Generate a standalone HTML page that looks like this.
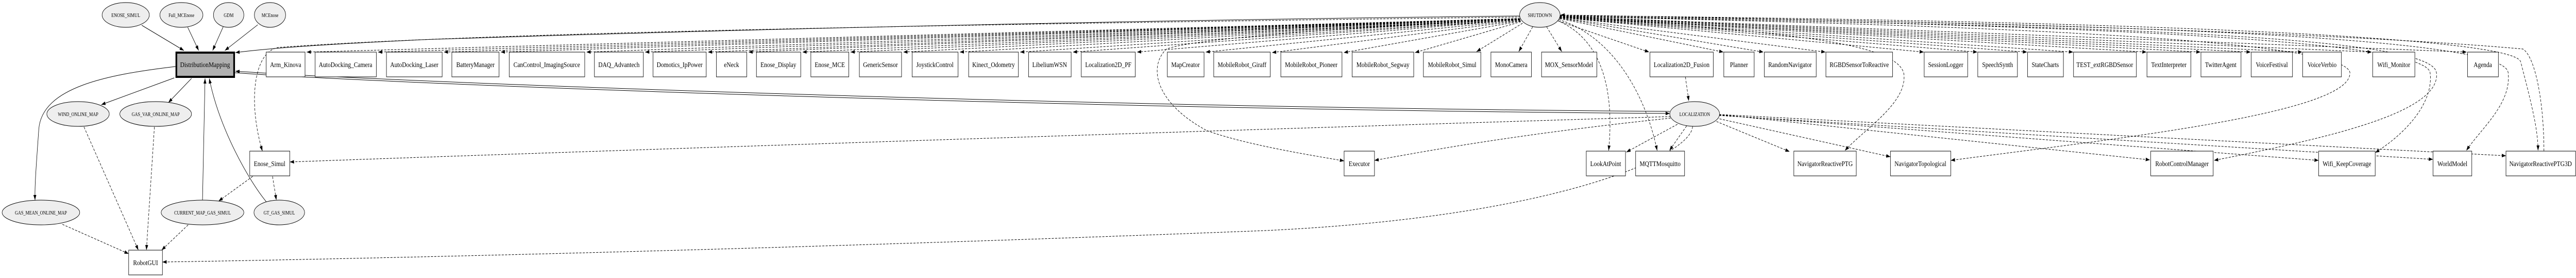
<!DOCTYPE html>
<html><head><meta charset="utf-8"><style>
html,body{margin:0;padding:0;background:#fff;width:100%;height:100%;overflow:hidden;}
svg{display:block;position:absolute;left:0;top:0;width:100vw;height:100vh;}
text{font-family:"Liberation Serif",serif;}
.b{fill:#fff;stroke:#000;stroke-width:1;}
.e{fill:#eeeeee;stroke:#000;stroke-width:1;}
.s{fill:none;stroke:#000;stroke-width:1;marker-end:url(#a);}
.d{fill:none;stroke:#000;stroke-width:1;stroke-dasharray:5,3;marker-end:url(#a);}
.t{font-size:14px;text-anchor:middle;}
.te{font-size:10px;text-anchor:middle;}
</style></head><body>
<svg viewBox="0 0 6106 539" preserveAspectRatio="none" xmlns="http://www.w3.org/2000/svg">
<defs><marker id="a" markerUnits="userSpaceOnUse" markerWidth="11" markerHeight="8" refX="10" refY="3.5" orient="auto"><path d="M0,0 L10,3.5 L0,7 z" fill="#000"/></marker></defs>

<path class="s" d="M336,49 L436,98"/>
<path class="s" d="M445,53 L471,98"/>
<path class="s" d="M529,52 L504,98"/>
<path class="s" d="M611,48 L533,98"/>
<path class="s" d="M413,151 L240,203"/>
<path class="s" d="M454,152 L399,199"/>
<path class="s" d="M416,129 C250,145 100,170 92,250 C86,320 82,360 83,388"/>
<path class="s" d="M480,388 L486,152"/>
<path class="s" d="M631,391 C590,350 520,250 496,152"/>
<path class="d" d="M199,246 L328,485"/>
<path class="d" d="M366,246 L347,485"/>
<path class="d" d="M148,435 L305,492"/>
<path class="d" d="M446,436 L383,485"/>
<path class="d" d="M599,342 L518,390"/>
<path class="d" d="M646,342 L655,388"/>

<path class="s" d="M3602,31 C3000,36 2000,50 1000,77 C800,85 650,92 558,102"/>
<path class="s" d="M557,141 C900,162 2500,212 3958,220"/>
<path class="s" d="M3958,216 C2500,208 900,158 558,138"/>
<path class="d" d="M3604,33 C2500,45 1200,60 660,92 C600,100 588,200 622,293"/>
<path class="d" d="M3960,226 C3000,250 1500,290 687,314"/>
<path class="d" d="M4012,245 C4010,300 3700,420 3000,447 C2000,479 1000,500 385,508"/>
<path class="d" d="M3603,37 C3300,50 2850,70 2765,95 C2720,130 2740,200 2860,253 C2950,280 3100,300 3186,312"/>
<path class="d" d="M3960,229 C3600,260 3400,290 3258,311"/>

<path class="d" d="M3603,36 L727,101"/>
<path class="d" d="M3603,36 L896,101"/>
<path class="d" d="M3603,36 L1052,101"/>
<path class="d" d="M3603,36 L1187,101"/>
<path class="d" d="M3603,36 L1390,101"/>
<path class="d" d="M3603,36 L1529,101"/>
<path class="d" d="M3603,36 L1678,101"/>
<path class="d" d="M3603,36 L1774,101"/>
<path class="d" d="M3603,37 L1902,101"/>
<path class="d" d="M3603,37 L2016,101"/>
<path class="d" d="M3603,37 L2141,101"/>
<path class="d" d="M3603,37 L2275,101"/>
<path class="d" d="M3603,38 L2418,101"/>
<path class="d" d="M3603,38 L2543,101"/>
<path class="d" d="M3603,38 L2695,101"/>
<path class="d" d="M3604,39 L2858,101"/>
<path class="d" d="M3604,40 L3015,102"/>
<path class="d" d="M3604,41 L3185,102"/>
<path class="d" d="M3605,42 L3354,102"/>
<path class="d" d="M3609,45 L3500,100"/>
<path class="d" d="M3633,52 L3600,100"/>
<path class="d" d="M3666,52 L3702,100"/>

<path class="d" d="M3695,41 L3909,101"/>
<path class="d" d="M3697,36 L4085,101"/>
<path class="d" d="M3697,35 L4180,101"/>
<path class="d" d="M3697,35 L4327,101"/>
<path class="d" d="M3697,34 L4560,101"/>
<path class="d" d="M3697,34 L4687,101"/>
<path class="d" d="M3697,34 L4805,101"/>
<path class="d" d="M3697,33 L4914,101"/>
<path class="d" d="M3697,33 L5088,101"/>
<path class="d" d="M3697,33 L5216,101"/>
<path class="d" d="M3697,33 L5335,101"/>
<path class="d" d="M3697,32 L5457,101"/>
<path class="d" d="M3697,32 L5622,101"/>
<path class="d" d="M3697,32 L5847,101"/>
<path class="d" d="M3692,40 C3780,70 3830,150 3813,292"/>
<path class="d" d="M3695,38 C3820,70 3900,180 3928,292"/>
<path class="d" d="M3995,149 L4003,196"/>
<path class="d" d="M3697,33 C4200,60 4500,80 4513,144 C4520,200 4420,250 4373,292"/>
<path class="d" d="M3697,32 C4800,50 5550,80 5570,140 C5580,220 5000,270 4624,311"/>
<path class="d" d="M3697,32 C5000,50 5760,70 5775,140 C5790,220 5500,270 5248,311"/>
<path class="d" d="M3697,32 C5000,48 5740,80 5760,140 C5770,200 5700,260 5630,296"/>
<path class="d" d="M3697,31 C5000,45 5930,70 5945,140 C5955,200 5880,250 5846,292"/>
<path class="d" d="M3697,30 C5000,40 5960,70 5975,120 C6000,200 6016,250 6016,292"/>
<path class="d" d="M6030,293 C6030,200 6010,110 5980,95 C5500,60 4500,40 3699,29"/>

<path class="d" d="M3976,241 L3855,295"/>
<path class="d" d="M3998,244 L3957,292"/>
<path class="d" d="M4061,233 L4242,294"/>
<path class="d" d="M4068,229 L4481,304"/>
<path class="d" d="M4075,222 L5096,310"/>
<path class="d" d="M4075,223 L5496,311"/>
<path class="d" d="M4075,224 L5767,309"/>
<path class="d" d="M4075,222 L5940,302"/>

<ellipse class="e" cx="298" cy="29" rx="56" ry="24"/><text class="te" x="298" y="33">ENOSE_SIMUL</text>
<ellipse class="e" cx="430" cy="29" rx="51" ry="24"/><text class="te" x="430" y="33">Full_MCEnose</text>
<ellipse class="e" cx="542" cy="29" rx="36" ry="24"/><text class="te" x="542" y="33">GDM</text>
<ellipse class="e" cx="640" cy="29" rx="37" ry="24"/><text class="te" x="640" y="33">MCEnose</text>
<rect x="418" y="102" width="137" height="47" fill="#b0b0b0" stroke="#000" stroke-width="4"/><text class="t" x="486" y="130">DistributionMapping</text>
<ellipse class="e" cx="185" cy="221" rx="74" ry="24"/><text class="te" x="185" y="225">WIND_ONLINE_MAP</text>
<ellipse class="e" cx="369" cy="221" rx="85" ry="24"/><text class="te" x="369" y="225">GAS_VAR_ONLINE_MAP</text>
<ellipse class="e" cx="97" cy="412" rx="92" ry="24"/><text class="te" x="97" y="416">GAS_MEAN_ONLINE_MAP</text>
<ellipse class="e" cx="480" cy="412" rx="98" ry="24"/><text class="te" x="480" y="416">CURRENT_MAP_GAS_SIMUL</text>
<ellipse class="e" cx="662" cy="412" rx="60" ry="24"/><text class="te" x="662" y="416">GT_GAS_SIMUL</text>
<ellipse class="e" cx="3650" cy="29" rx="48" ry="24"/><text class="te" x="3650" y="33">SHUTDOWN</text>
<ellipse class="e" cx="4017" cy="221" rx="59" ry="24"/><text class="te" x="4017" y="225">LOCALIZATION</text>

<g>
<rect class="b" x="631" y="101" width="92" height="48"/><text class="t" x="677" y="130">Arm_Kinova</text>
<rect class="b" x="747" y="101" width="145" height="48"/><text class="t" x="819" y="130">AutoDocking_Camera</text>
<rect class="b" x="916" y="101" width="132" height="48"/><text class="t" x="982" y="130">AutoDocking_Laser</text>
<rect class="b" x="1071" y="101" width="112" height="48"/><text class="t" x="1127" y="130">BatteryManager</text>
<rect class="b" x="1207" y="101" width="179" height="48"/><text class="t" x="1296" y="130">CanControl_ImagingSource</text>
<rect class="b" x="1409" y="101" width="116" height="48"/><text class="t" x="1467" y="130">DAQ_Advantech</text>
<rect class="b" x="1548" y="101" width="126" height="48"/><text class="t" x="1611" y="130">Domotics_IpPower</text>
<rect class="b" x="1698" y="101" width="72" height="48"/><text class="t" x="1734" y="130">eNeck</text>
<rect class="b" x="1793" y="101" width="105" height="48"/><text class="t" x="1845" y="130">Enose_Display</text>
<rect class="b" x="1922" y="101" width="90" height="48"/><text class="t" x="1967" y="130">Enose_MCE</text>
<rect class="b" x="2037" y="101" width="100" height="48"/><text class="t" x="2087" y="130">GenericSensor</text>
<rect class="b" x="2162" y="101" width="109" height="48"/><text class="t" x="2216" y="130">JoystickControl</text>
<rect class="b" x="2296" y="101" width="118" height="48"/><text class="t" x="2355" y="130">Kinect_Odometry</text>
<rect class="b" x="2438" y="101" width="101" height="48"/><text class="t" x="2488" y="130">LibeliumWSN</text>
<rect class="b" x="2563" y="101" width="128" height="48"/><text class="t" x="2627" y="130">Localization2D_PF</text>
<rect class="b" x="2767" y="101" width="87" height="48"/><text class="t" x="2810" y="130">MapCreator</text>
<rect class="b" x="2877" y="101" width="134" height="48"/><text class="t" x="2944" y="130">MobileRobot_Giraff</text>
<rect class="b" x="3036" y="101" width="145" height="48"/><text class="t" x="3108" y="130">MobileRobot_Pioneer</text>
<rect class="b" x="3205" y="101" width="146" height="48"/><text class="t" x="3278" y="130">MobileRobot_Segway</text>
<rect class="b" x="3374" y="101" width="136" height="48"/><text class="t" x="3442" y="130">MobileRobot_Simul</text>
<rect class="b" x="3534" y="101" width="96" height="48"/><text class="t" x="3582" y="130">MonoCamera</text>
<rect class="b" x="3654" y="101" width="131" height="48"/><text class="t" x="3719" y="130">MOX_SensorModel</text>
<rect class="b" x="3911" y="101" width="150" height="48"/><text class="t" x="3986" y="130">Localization2D_Fusion</text>
<rect class="b" x="4086" y="101" width="72" height="48"/><text class="t" x="4122" y="130">Planner</text>
<rect class="b" x="4182" y="101" width="123" height="48"/><text class="t" x="4243" y="130">RandomNavigator</text>
<rect class="b" x="4328" y="101" width="158" height="48"/><text class="t" x="4407" y="130">RGBDSensorToReactive</text>
<rect class="b" x="4561" y="101" width="103" height="48"/><text class="t" x="4612" y="130">SessionLogger</text>
<rect class="b" x="4688" y="101" width="94" height="48"/><text class="t" x="4735" y="130">SpeechSynth</text>
<rect class="b" x="4806" y="101" width="85" height="48"/><text class="t" x="4848" y="130">StateCharts</text>
<rect class="b" x="4915" y="101" width="149" height="48"/><text class="t" x="4989" y="130">TEST_extRGBDSensor</text>
<rect class="b" x="5089" y="101" width="104" height="48"/><text class="t" x="5141" y="130">TextInterpreter</text>
<rect class="b" x="5217" y="101" width="95" height="48"/><text class="t" x="5264" y="130">TwitterAgent</text>
<rect class="b" x="5336" y="101" width="98" height="48"/><text class="t" x="5385" y="130">VoiceFestival</text>
<rect class="b" x="5458" y="101" width="92" height="48"/><text class="t" x="5504" y="130">VoiceVerbio</text>
<rect class="b" x="5624" y="101" width="100" height="48"/><text class="t" x="5674" y="130">Wifi_Monitor</text>
<rect class="b" x="5849" y="101" width="73" height="48"/><text class="t" x="5885" y="130">Agenda</text>

<rect class="b" x="592" y="293" width="95" height="48"/><text class="t" x="639" y="322">Enose_Simul</text>
<rect class="b" x="3186" y="293" width="72" height="48"/><text class="t" x="3222" y="322">Executor</text>
<rect class="b" x="3760" y="293" width="93" height="48"/><text class="t" x="3806" y="322">LookAtPoint</text>
<rect class="b" x="3877" y="293" width="116" height="48"/><text class="t" x="3935" y="322">MQTTMosquitto</text>
<rect class="b" x="4252" y="293" width="148" height="48"/><text class="t" x="4326" y="322">NavigatorReactivePTG</text>
<rect class="b" x="4481" y="293" width="143" height="48"/><text class="t" x="4552" y="322">NavigatorTopological</text>
<rect class="b" x="5098" y="293" width="148" height="48"/><text class="t" x="5172" y="322">RobotControlManager</text>
<rect class="b" x="5496" y="293" width="134" height="48"/><text class="t" x="5563" y="322">Wifi_KeepCoverage</text>
<rect class="b" x="5767" y="293" width="92" height="48"/><text class="t" x="5813" y="322">WorldModel</text>
<rect class="b" x="5940" y="293" width="165" height="48"/><text class="t" x="6022" y="322">NavigatorReactivePTG3D</text>
<rect class="b" x="305" y="485" width="80" height="48"/><text class="t" x="345" y="514">RobotGUI</text>
</g>
</svg>
</body></html>
